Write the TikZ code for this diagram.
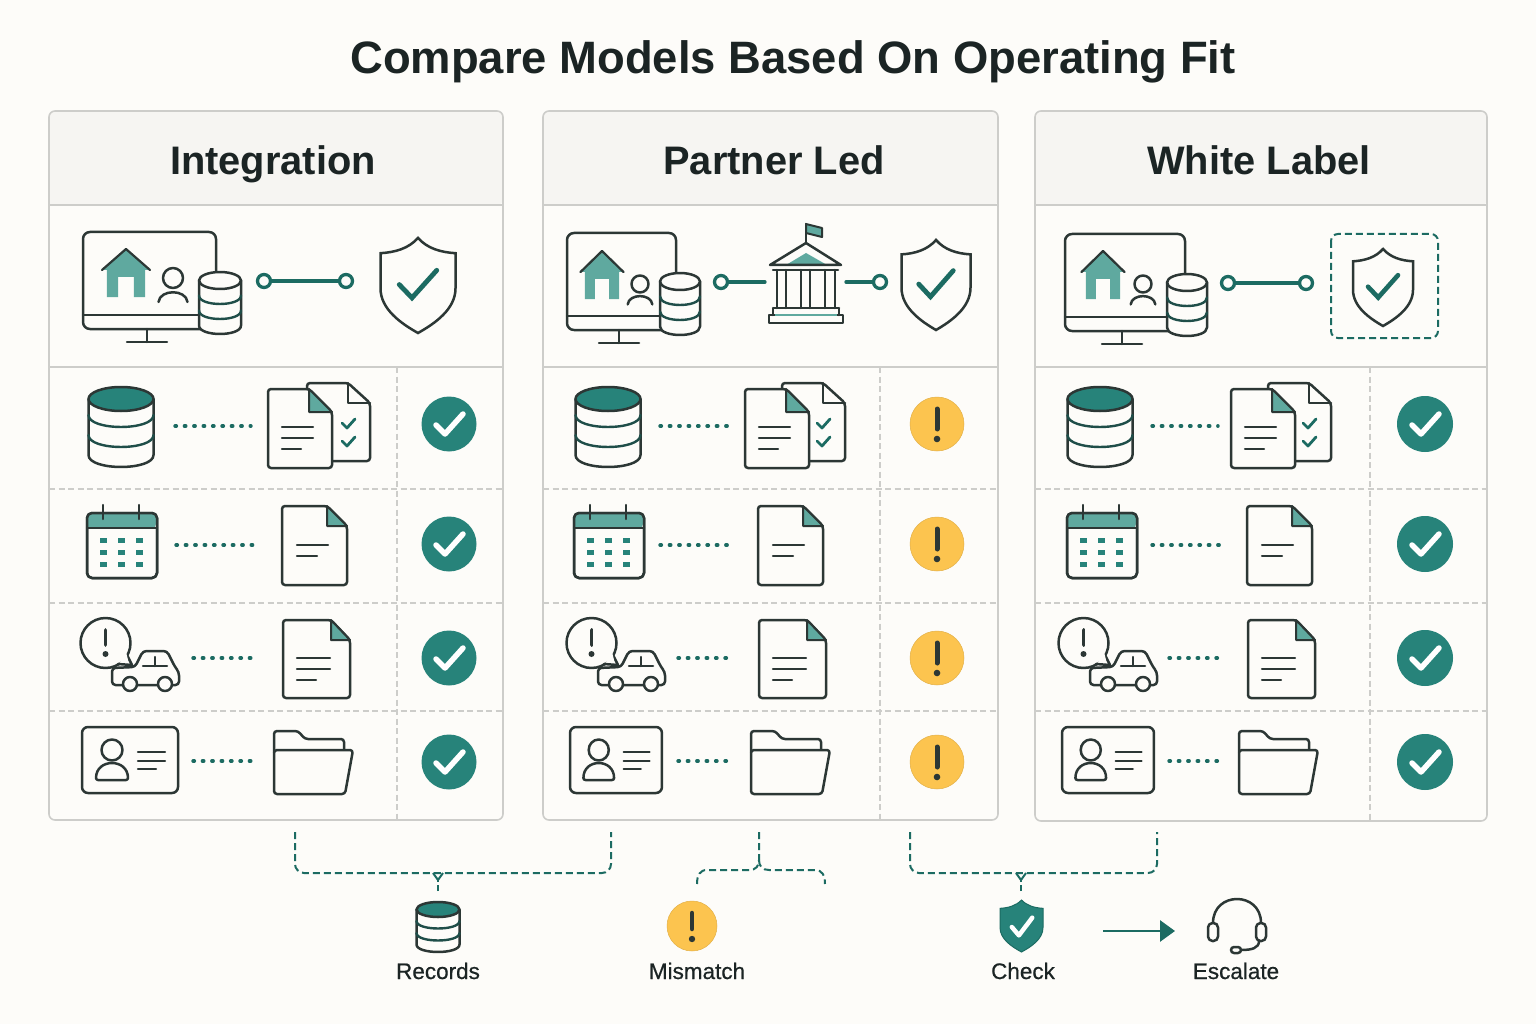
\documentclass[tikz,border=0pt]{standalone}
\usepackage{fontspec}
\setmainfont{Liberation Sans}
\newfontfamily\lblfont[FakeBold=0.6]{Liberation Sans}
\usetikzlibrary{arrows.meta}
\definecolor{paper}{HTML}{FDFCF9}
\definecolor{headc}{HTML}{F6F5F2}
\definecolor{edgec}{HTML}{CDCDCA}
\definecolor{inkc}{HTML}{2C3735}
\definecolor{titlec}{HTML}{1B2424}
\definecolor{tealc}{HTML}{27837A}
\definecolor{teald}{HTML}{1C6B62}
\definecolor{teall}{HTML}{5FA99F}
\definecolor{bandc}{HTML}{1F4E49}
\definecolor{amberc}{HTML}{FCC44F}
\tikzset{
 ink/.style={draw=inkc,line width=2.5pt,line join=round,line cap=round},
 band/.style={draw=bandc,line width=2.4pt,line cap=round},
 tealline/.style={draw=teald,line width=3.3pt,line cap=round},
 ringn/.style={circle,draw=teald,line width=3.3pt,fill=paper,minimum size=13pt,inner sep=0pt},
 dotline/.style={draw=teald,line width=3.4pt,line cap=round,dash pattern=on 1.4pt off 8pt},
 rowline/.style={draw=edgec,line width=1.2pt,dash pattern=on 6pt off 3.5pt},
 solidrow/.style={draw=edgec,line width=1.5pt},
 brk/.style={draw=teald,line width=2pt,dash pattern=on 7pt off 4pt},
 statc/.style={circle,fill=tealc,inner sep=0pt,minimum size=#1},
 statw/.style={circle,fill=amberc,draw=amberc!90!black,line width=.5pt,inner sep=0pt,minimum size=#1},
 titlet/.style={anchor=base,text=titlec,font=\fontsize{45.4}{50}\bfseries\selectfont,inner sep=0pt},
 headt/.style={anchor=base,text=titlec,font=\fontsize{39.8}{44}\bfseries\selectfont,inner sep=0pt},
 lblt/.style={anchor=base,text=titlec,font=\lblfont\fontsize{22.5}{24}\selectfont,inner sep=0pt},
}
% panel: name,x0,x1,colx,y1
\newcommand{\icpanel}[5]{
 \path[fill=paper,rounded corners=6pt] (#2,111) rectangle (#3,#5);
 \path[fill=headc,rounded corners=6pt] (#2,205) -- (#2,111) -- (#3,111) -- (#3,205) [sharp corners] -- cycle;
 \draw[solidrow] (#2,205) -- (#3,205);
 \draw[solidrow] (#2,367) -- (#3,367);
 \draw[rowline] (#2,489) -- (#3,489);
 \draw[rowline] (#2,603) -- (#3,603);
 \draw[rowline] (#2,711) -- (#3,711);
 \draw[rowline] (#4,367) -- (#4,#5);
 \draw[draw=edgec,line width=1.6pt,rounded corners=6pt] (#2,111) rectangle (#3,#5);
}
% database: cx,top,rx,h,ry,topfill,band1,band2
\newcommand{\icdb}[8]{
 \begin{scope}[shift={(#1,#2)}]
 \pgfmathsetmacro{\rr}{#3}\pgfmathsetmacro{\hh}{#4}\pgfmathsetmacro{\yy}{#5}
 \pgfmathsetmacro{\lo}{\hh-\yy}\pgfmathsetmacro{\cc}{\hh-\yy+1.33*\yy}
 \filldraw[ink,fill=paper] (-\rr,\yy) -- (-\rr,\lo) .. controls (-\rr,\cc) and (\rr,\cc) .. (\rr,\lo) -- (\rr,\yy) -- cycle;
 \foreach \bb in {#7,#8}{
  \pgfmathsetmacro{\dd}{\bb+1.33*\yy}
  \draw[band] (-\rr,\bb) .. controls (-\rr,\dd) and (\rr,\dd) .. (\rr,\bb);
 }
 \filldraw[ink,fill=#6] (0,\yy) ellipse [x radius=\rr pt,y radius=\yy pt];
 \end{scope}
}
% monitor: x0,x1,y0,standx,house apex x,apex y,house half width,headx,heady
\newcommand{\icmon}[9]{
 \filldraw[ink,rounded corners=7pt,fill=paper] (#1,#3+97) -- (#1,#3) -- (#2,#3) -- (#2,#3+97) -- cycle;
 \draw[ink] (#1,#3+83) -- (#2,#3+83);
 \draw[ink] (#4,#3+97) -- (#4,#3+110);
 \draw[ink] (#4-20,#3+110) -- (#4+20,#3+110);
 \begin{scope}[shift={(#5,#6)}]
  \pgfmathsetmacro{\hw}{#7}\pgfmathsetmacro{\hb}{\hw*.8}\pgfmathsetmacro{\hd}{\hw*.33}
  \fill[teall] (0,0) -- (-\hw,21) -- (-\hb,21) -- (-\hb,48) -- (-\hd,48) -- (-\hd,28) -- (\hd,28) -- (\hd,48) -- (\hb,48) -- (\hb,21) -- (\hw,21) -- cycle;
  \draw[ink,line width=2.2pt] (-\hw,21) -- (0,0) -- (\hw,21);
 \end{scope}
 \pgfmathsetmacro{\hrr}{#8 > 200 ? 8.5 : 10}
 \draw[ink] (#8,#9) circle [radius=\hrr pt];
 \draw[ink] (#8-1.45*\hrr,#9+2.4*\hrr) .. controls (#8-1.3*\hrr,#9+1.1*\hrr) and (#8+1.3*\hrr,#9+1.1*\hrr) .. (#8+1.45*\hrr,#9+2.4*\hrr);
}
% shield: cx,top,halfw,h,fill,checkcolor,checkwidth
\newcommand{\icshield}[7]{
 \begin{scope}[shift={(#1,#2)},xscale=#3,yscale=#4]
 \filldraw[ink,fill=#5,line join=miter] (0,0) .. controls (-.25,.11) and (-.6,.15) .. (-1,.16) -- (-1,.53) .. controls (-1,.75) and (-.45,.9) .. (0,1) .. controls (.45,.9) and (1,.75) .. (1,.53) -- (1,.16) .. controls (.6,.15) and (.25,.11) .. (0,0) -- cycle;
 \draw[draw=#6,line width=#7,line cap=round,line join=miter] (-.5,.49) -- (-.16,.63) -- (.5,.34);
 \end{scope}
}
% document: x0,y0,x1,y1,foldx,foldy
\newcommand{\icdoc}[6]{
 \filldraw[ink,fill=paper,rounded corners=3pt] (#1,#2) -- (#5,#2) -- (#3,#6) -- (#3,#4) -- (#1,#4) -- cycle;
 \filldraw[ink,fill=teall,line width=2pt] (#5,#2) -- (#3,#6) -- (#5,#6) -- cycle;
}
\newcommand{\iccheck}[2]{\draw[white,line width=5.5pt,line cap=round,line join=round] (#1-13,#2+1) -- (#1-4,#2+10) -- (#1+14,#2-10);}
\newcommand{\icexcl}[2]{
 \draw[inkc,line width=5pt,line cap=round] (#1,#2-15) -- (#1,#2+5);
 \fill[inkc] (#1,#2+15) circle [radius=3.3pt];
}
\begin{document}
\begin{tikzpicture}[x=1pt,y=-1pt]
\useasboundingbox (0,0) rectangle (1536,1024);
\fill[paper] (0,0) rectangle (1536,1024);
\node[titlet] (title) at (793,74) {Compare Models Based On Operating Fit};
\icpanel{p1}{49}{503}{397}{820}
\icpanel{p2}{543}{998}{880}{820}
\icpanel{p3}{1035}{1487}{1370}{821}
\node[headt] (h1) at (273,175) {Integration};
\node[headt] (h2) at (774,175) {Partner Led};
\node[headt] (h3) at (1259,175) {White Label};

% top row, panel 1
\icmon{83}{216}{232}{147}{126}{249}{24}{173}{278}
\icdb{220}{272}{21}{62}{8.5}{paper}{23.5}{38.5}
\node[ringn] (p1a) at (264,281) {};
\node[ringn] (p1b) at (346,281) {};
\draw[tealline] (p1a) -- (p1b);
\icshield{418}{238}{37.5}{95}{paper}{teald}{4.8pt}
% top row, panel 2
\icmon{567}{676}{233}{619}{602}{251}{21.5}{640}{284}
\icdb{680}{273}{20}{62}{8.5}{paper}{23.5}{38.5}
\node[ringn] (p2a) at (721,282) {};
\coordinate (p2l) at (765,282);
\coordinate (p2r) at (846,282);
\node[ringn] (p2b) at (880,282) {};
\draw[tealline] (p2a) -- (p2l);
\draw[tealline] (p2r) -- (p2b);
\fill[teall] (806,253) -- (786,265) -- (827,265) -- cycle;
\draw[ink] (806,243) -- (806,224);
\filldraw[ink,fill=teall,line width=2pt] (806,224) -- (822,228) -- (822,237) -- (806,233) -- cycle;
\draw[ink] (770,265) -- (806,243) -- (841,265) -- cycle;
\draw[ink] (773,270) -- (838,270);
\foreach \cx in {777,786,801,810,825,835}{\draw[ink] (\cx,270) -- (\cx,308);}
\draw[ink] (773,308) -- (773,315) (839,308) -- (839,315) (773,308) -- (839,308);
\draw[ink] (769,315) rectangle (843,323);
\draw[teall,line width=2pt] (775,315) -- (837,315);
\icshield{936}{240}{34.5}{90}{paper}{teald}{4.8pt}
% top row, panel 3
\icmon{1065}{1185}{234}{1122}{1103}{251}{21.5}{1143}{284}
\icdb{1187}{274}{20}{62}{8.5}{paper}{23.5}{38.5}
\node[ringn] (p3a) at (1228,283) {};
\node[ringn] (p3b) at (1306,283) {};
\draw[tealline] (p3a) -- (p3b);
\draw[brk,rounded corners=7pt,line width=2pt] (1331,234) rectangle (1438,338);
\icshield{1383}{249}{30}{77}{paper}{teald}{4.6pt}

% row icons
\foreach \pn/\dDb/\dPair/\dBack/\dCal/\dDocA/\dDocB/\dCar/\dId/\idS/\dFold/\dAa/\dAb/\dBa/\dBb/\dCa/\dCb in {
 p1/121/0/0/0/0/0/0/0/1/0/175/251/176/256/193/256,
 p2/608/477/475/487/476/476/486/488/.958/477/660/729/660/734/678/734,
 p3/1100/963/961/980/965/965/978/980/.958/965/1152/1218/1152/1223/1169/1223}{
 % row 1
 \icdb{\dDb}{387}{32.5}{80}{12}{tealc}{28}{48}
 \coordinate (\pn r1a) at (\dAa,426);
 \coordinate (\pn r1b) at (\dAb,426);
 \draw[dotline] (\pn r1a) -- (\pn r1b);
 \begin{scope}[shift={(\dBack,0)}]
  \filldraw[ink,fill=paper,rounded corners=3pt] (307,383) -- (348,383) -- (370,403) -- (370,461) -- (325,461) -- (307,440) -- cycle;
  \draw[ink] (348,383) -- (348,403) -- (370,403);
  \draw[teald,line width=2.8pt,line cap=round,line join=round] (342,423) -- (347,428) -- (355,419);
  \draw[teald,line width=2.8pt,line cap=round,line join=round] (342,441) -- (347,446) -- (355,437);
 \end{scope}
 \begin{scope}[shift={(\dPair,0)}]
  \icdoc{268}{389}{332}{468}{309}{412}
  \draw[ink,line width=2.2pt] (282,427) -- (313,427) (282,438) -- (313,438) (282,449) -- (301,449);
 \end{scope}
 % row 2
 \begin{scope}[shift={(\dCal,0)}]
  \filldraw[ink,fill=paper,rounded corners=5pt] (87,513) rectangle (157,578);
  \path[fill=teall,rounded corners=4pt] (88,528) -- (88,514) -- (156,514) -- (156,528) [sharp corners] -- cycle;
  \draw[ink,rounded corners=5pt] (87,513) rectangle (157,578);
  \draw[ink] (87,528) -- (157,528);
  \draw[ink] (103,505) -- (103,519) (139,505) -- (139,519);
  \foreach \xa in {103,121,139}{\foreach \ya in {540,552,564}{
   \fill[tealc] (\xa-3.5,\ya-2.5) rectangle (\xa+3.5,\ya+2.5);}}
 \end{scope}
 \coordinate (\pn r2a) at (\dBa,545);
 \coordinate (\pn r2b) at (\dBb,545);
 \draw[dotline] (\pn r2a) -- (\pn r2b);
 \begin{scope}[shift={(\dDocA,0)}]
  \icdoc{282}{506}{347}{585}{327}{526}
  \draw[ink,line width=2.2pt] (297,545) -- (328,545) (297,556) -- (317,556);
 \end{scope}
 % row 3
 \begin{scope}[shift={(\dCar,0)}]
  \draw[ink] (105.5,643) circle [radius=25pt];
  \filldraw[ink,fill=paper] (127,655) -- (132,665) -- (118,664);
  \path[fill=paper] (126,652) -- (128,660) -- (119,662) -- (115,655) -- cycle;
  \draw[inkc,line width=3.8pt,line cap=round] (105.5,630) -- (105.5,645);
  \fill[inkc] (105.5,654) circle [radius=3pt];
  \filldraw[ink,fill=paper,rounded corners=3.5pt] (112,685) -- (112,668) -- (135,667) -- (143,651) -- (167,651) -- (175,667) -- (179,672) -- (179,685) -- cycle;
  \draw[ink] (143,666) -- (167,666) (155,657) -- (155,666);
  \filldraw[ink,fill=paper] (130,684) circle [radius=7pt];
  \filldraw[ink,fill=paper] (165,684) circle [radius=7pt];
 \end{scope}
 \coordinate (\pn r3a) at (\dCa,658);
 \coordinate (\pn r3b) at (\dCb,658);
 \draw[dotline] (\pn r3a) -- (\pn r3b);
 \begin{scope}[shift={(\dDocB,0)}]
  \icdoc{283}{620}{350}{698}{331}{640}
  \draw[ink,line width=2.2pt] (297,658) -- (330,658) (297,669) -- (330,669) (297,680) -- (316,680);
 \end{scope}
 % row 4
 \begin{scope}[shift={(\dId+82,0)},xscale=\idS,shift={(-82,0)}]
  \filldraw[ink,fill=paper,rounded corners=6pt] (82,727) rectangle (178,793);
  \draw[ink] (112,750) circle [radius=10.5pt];
  \draw[ink,rounded corners=2pt] (96,780) .. controls (96,758) and (128,758) .. (128,780) -- cycle;
  \draw[ink,line width=2.2pt] (138,752) -- (165,752) (138,761) -- (165,761) (138,769) -- (156,769);
 \end{scope}
 \coordinate (\pn r4a) at (\dCa,761);
 \coordinate (\pn r4b) at (\dCb,761);
 \draw[dotline] (\pn r4a) -- (\pn r4b);
 \begin{scope}[shift={(\dFold,0)}]
  \draw[ink,rounded corners=3pt] (274,752) -- (274,731) -- (298,731) -- (305,739) -- (344,739) -- (344,752);
  \filldraw[ink,fill=paper,rounded corners=3pt] (274,750) -- (353,750) -- (345,794) -- (274,794) -- cycle;
 \end{scope}
}
% status column
\foreach \i/\yy in {1/424,2/544,3/658,4/762}{
 \node[statc=55pt] (p1s\i) at (449,\yy) {};
 \iccheck{449}{\yy}
 \node[statw=54pt] (p2s\i) at (937,\yy) {};
 \icexcl{937}{\yy}
 \node[statc=56pt] (p3s\i) at (1425,\yy) {};
 \iccheck{1425}{\yy}
}
% brackets
\coordinate (b1l) at (295,832); \coordinate (b1r) at (611,832); \coordinate (b1m) at (438,891);
\draw[brk,rounded corners=9pt] (b1l) -- (295,873) -- (611,873) -- (b1r);
\draw[brk,dash pattern=on 6pt off 3pt] (b1m) -- (438,880);
\draw[teald,line width=2pt] (438,880) -- (433,873) (438,880) -- (443,873);
\coordinate (b2t) at (759,832); \coordinate (b2l) at (697,884); \coordinate (b2r) at (825,884);
\draw[brk] (b2t) -- (759,860) .. controls (759,866) and (756,870) .. (749,870) -- (707,870) .. controls (700,870) and (697,875) .. (b2l);
\draw[brk] (759,860) .. controls (759,866) and (762,870) .. (769,870) -- (815,870) .. controls (822,870) and (825,875) .. (b2r);
\coordinate (b3l) at (910,832); \coordinate (b3r) at (1157,832); \coordinate (b3m) at (1021,891);
\draw[brk,rounded corners=9pt] (b3l) -- (910,873) -- (1157,873) -- (b3r);
\draw[brk,dash pattern=on 6pt off 3pt] (b3m) -- (1021,880);
\draw[teald,line width=2pt] (1021,880) -- (1016,873) (1021,880) -- (1026,873);
% legend
\icdb{438}{902}{21.5}{50}{7.5}{tealc}{19}{31}
\node[lblt] (lr) at (438,979) {Records};
\node[statw=50pt] (lw) at (692,926) {};
\draw[inkc,line width=4.5pt,line cap=round] (692,913) -- (692,929);
\fill[inkc] (692,939) circle [radius=3.2pt];
\node[lblt] (lm) at (697,979) {Mismatch};
\begin{scope}[shift={(1021.5,900)},xscale=21.5,yscale=52]
 \fill[tealc,draw=teald,line width=1pt] (0,0) .. controls (-.25,.11) and (-.6,.15) .. (-1,.16) -- (-1,.53) .. controls (-1,.75) and (-.45,.9) .. (0,1) .. controls (.45,.9) and (1,.75) .. (1,.53) -- (1,.16) .. controls (.6,.15) and (.25,.11) .. (0,0) -- cycle;
 \draw[white,line width=4.5pt,line cap=round,line join=round] (-.45,.52) -- (-.12,.68) -- (.5,.34);
\end{scope}
\node[lblt] (lc) at (1023,979) {Check};
\coordinate (arra) at (1103,931);
\coordinate (arrb) at (1175,931);
\draw[tealline,line width=2.8pt,line cap=butt,-{Triangle[length=15pt,width=21pt]}] (arra) -- (arrb);
\draw[ink] (1213,923) .. controls (1213,891) and (1261,891) .. (1261,923);
\draw[ink,rounded corners=4.5pt] (1208,923) rectangle (1218,941);
\draw[ink,rounded corners=4.5pt] (1256,923) rectangle (1266,941);
\draw[ink] (1259,941) .. controls (1259,948) and (1252,950) .. (1241,950);
\draw[ink,rounded corners=3pt] (1231,947) rectangle (1241,953);
\node[lblt] (le) at (1236,979) {Escalate};
\end{tikzpicture}
\end{document}
